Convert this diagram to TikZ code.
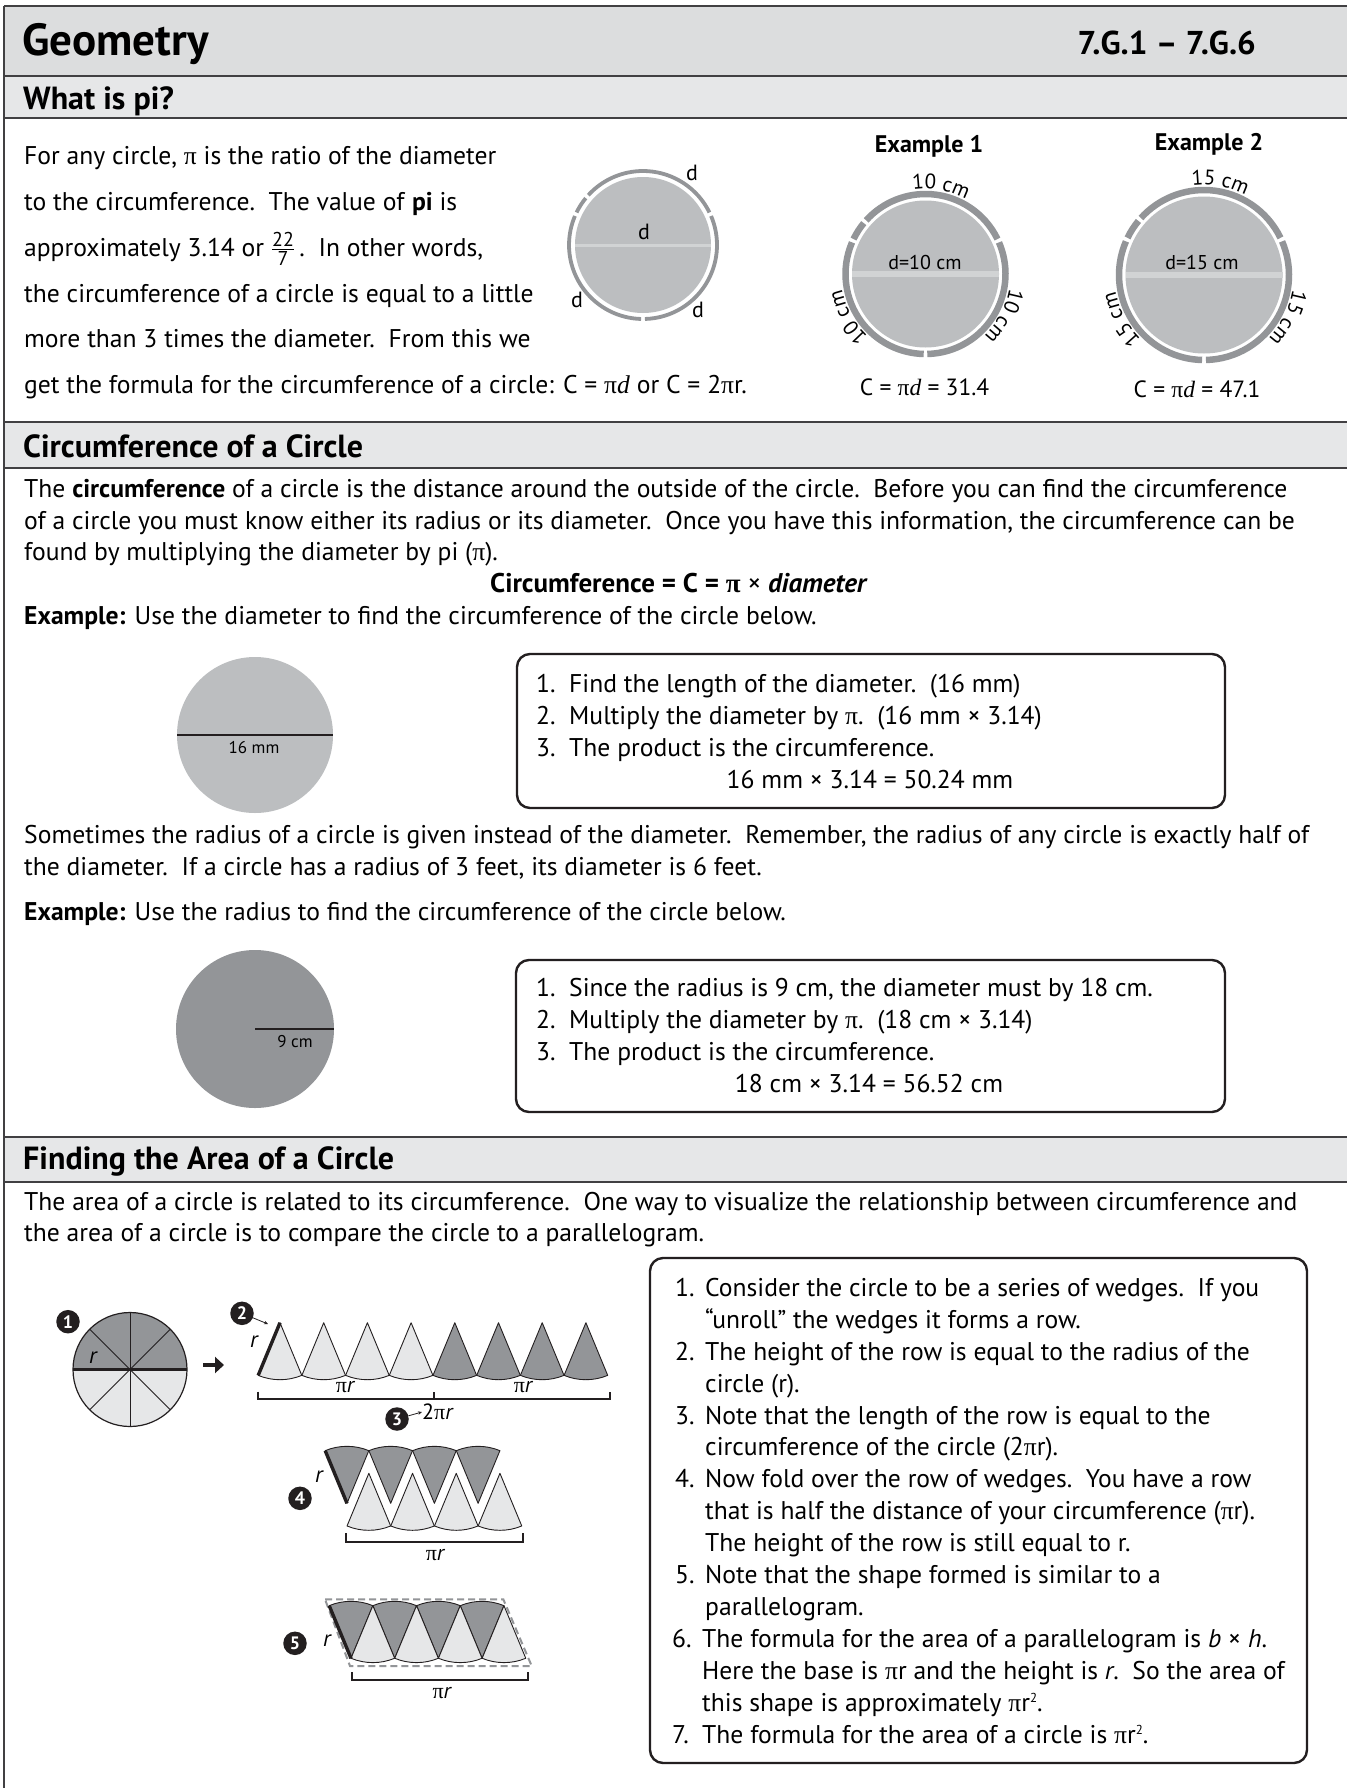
\documentclass[tikz,border=0pt]{standalone}
\usepackage{fontspec}
\usepackage{amsmath}
\setmainfont{PT Sans}
\newfontfamily\pifont{Liberation Serif}
\usetikzlibrary{decorations.text,arrows.meta,calc}
\newcommand\mypi{{\pifont π}}
\newcommand\myit[1]{{\pifont\itshape #1}}
\newcommand\arcfont{\fontsize{21}{21}\selectfont}
\newcommand\sqr{\raisebox{8.5pt}{\fontsize{13}{13}\selectfont 2}}
\newcommand\frtext[1]{\text{\fontsize{20}{20}\selectfont #1}}
\definecolor{bandA}{HTML}{DCDDDE}
\definecolor{bandB}{HTML}{E6E7E8}
\definecolor{rulec}{HTML}{414042}
\definecolor{midgray}{HTML}{BCBEC0}
\definecolor{ringgray}{HTML}{939598}
\definecolor{lightline}{HTML}{D1D3D4}
\definecolor{ink}{HTML}{231F20}
\definecolor{lightfill}{HTML}{E6E7E8}
\newcommand\segring[4]{\foreach \sa/\sb in {-90/24.6,24.6/139.2,139.2/155.4,155.4/270}{\draw[line width=#3, draw=ringgray] ($(#1)+(\sa+#4:#2)$) arc[start angle=\sa+#4, end angle=\sb-#4, radius=#2];}}
\newcommand\arclabel[5]{\path[decorate,decoration={text along path,text align=center,text={|\arcfont|#5}}] ($(#1)+(#3+#4:#2)$) arc[start angle=#3+#4, end angle=#3-#4, radius=#2];}
\newcommand\wup[3]{\filldraw[wedge,fill=#3] (#1,#2) -- ++(247.5:57pt) arc[start angle=247.5,end angle=292.5,radius=57pt] -- cycle;}
\newcommand\wdown[3]{\filldraw[wedge,fill=#3] (#1,#2) -- ++(67.5:57pt) arc[start angle=67.5,end angle=112.5,radius=57pt] -- cycle;}
\begin{document}
\begin{tikzpicture}[x=1pt,y=-1pt,
  body/.style={font=\fontsize{25.6}{30}\selectfont, inner sep=0pt, anchor=base west},
  bodyc/.style={body, anchor=base},
  headA/.style={font=\fontsize{45}{45}\selectfont\bfseries, inner sep=0pt, anchor=base west},
  headB/.style={font=\fontsize{32}{32}\selectfont\bfseries, inner sep=0pt, anchor=base west},
  rulel/.style={line width=2.6pt, draw=rulec},
  box/.style={draw=ink, line width=2.4pt, rounded corners=13pt},
  wedge/.style={draw=ink, line width=0.9pt, line join=round},
  bracket/.style={draw=ink, line width=2.2pt},
  bullet/.style={circle, fill=ink, text=white, font=\fontsize{18}{18}\selectfont\bfseries, inner sep=0pt, minimum size=23.5pt},
  small/.style={font=\fontsize{17}{17}\selectfont, inner sep=0pt},
  lab/.style={font=\fontsize{22}{22}\selectfont, inner sep=0pt},
  rlab/.style={font=\fontsize{23}{23}\selectfont\itshape, inner sep=0pt},
  exlab/.style={font=\fontsize{24}{24}\selectfont\bfseries, inner sep=0pt, anchor=base},
]
\fill[white] (0,0) rectangle (1347,1788);
\path[use as bounding box] (0,0) rectangle (1347,1788);
% bands
\fill[bandA] (4,6) rectangle (1347,76);
\fill[bandB] (4,76) rectangle (1347,118);
\fill[bandB] (4,422) rectangle (1347,468);
\fill[bandB] (4,1137) rectangle (1347,1182);
\foreach \yy in {6,76,118,422,468,1137,1182} {\draw[rulel] (4,\yy) -- (1347,\yy);}
\draw[rulel] (4,6) -- (4,1788);
% headings
\node[headA] (hGeo) at (22,55) {Geometry};
\node[font=\fontsize{33}{33}\selectfont\bfseries, inner sep=0pt, anchor=base east] (hStd) at (1256,54) {7.G.1 – 7.G.6};
\node[headB] (hPi) at (23,109) {What is pi?};
\node[headB] (hCirc) at (23,457) {Circumference of a Circle};
\node[headB] (hArea) at (23,1169) {Finding the Area of a Circle};
% what is pi text
\node[body] (p1) at (24,164) {For any circle, \mypi{} is the ratio of the diameter};
\node[body] (p2) at (24,210) {to the circumference.\ \ The value of \textbf{pi} is};
\node[body] (p3) at (24,256) {approximately 3.14 or $\frac{\frtext{22}}{\frtext{7}}$\,.\ \ In other words,};
\node[body] (p4) at (24,302) {the circumference of a circle is equal to a little};
\node[body] (p5) at (24,347) {more than 3 times the diameter.\ \ From this we};
\node[body] (p6) at (24,393) {get the formula for the circumference of a circle: C = \mypi\myit{d} or C = 2\mypi r.};
% d circle
\coordinate (cD) at (643,245);
\fill[midgray] (cD) circle[radius=68pt];
\draw[lightline, line width=3pt] ($(cD)+(-68,0)$) -- ($(cD)+(68,0)$);
\segring{cD}{74pt}{3.8pt}{1.5}
\node[lab] (dA) at (692,173) {d};
\node[lab] (dB) at (577,300) {d};
\node[lab] (dC) at (698,310) {d};
\node[lab] (dD) at (644,232) {d};
% example 1
\node[exlab] (ex1) at (929,152) {Example 1};
\coordinate (cE1) at (925.5,274);
\fill[midgray] (cE1) circle[radius=73.5pt];
\draw[lightline, line width=6pt] ($(cE1)+(-73.5,0)$) -- ($(cE1)+(73.5,0)$);
\segring{cE1}{80pt}{6.5pt}{1.3}
\node[font=\fontsize{20}{20}\selectfont, inner sep=0pt, anchor=base] (d10) at (925,269) {d=10 cm};
\arclabel{cE1}{85pt}{80}{30}{10 cm}
\arclabel{cE1}{85pt}{209}{30}{10 cm}
\arclabel{cE1}{85pt}{-28}{30}{10 cm}
\node[font=\fontsize{23.5}{23.5}\selectfont, inner sep=0pt, anchor=base] (C1) at (924.5,395) {C = \mypi\myit{d} = 31.4};
% example 2
\node[exlab] (ex2) at (1209,150) {Example 2};
\coordinate (cE2) at (1204,275);
\fill[midgray] (cE2) circle[radius=78.5pt];
\draw[lightline, line width=6pt] ($(cE2)+(-78.5,0)$) -- ($(cE2)+(78.5,0)$);
\segring{cE2}{85pt}{6.5pt}{1.3}
\node[font=\fontsize{20}{20}\selectfont, inner sep=0pt, anchor=base] (d15) at (1202,269) {d=15 cm};
\arclabel{cE2}{90pt}{80}{30}{15 cm}
\arclabel{cE2}{90pt}{208}{30}{15 cm}
\arclabel{cE2}{90pt}{-27}{30}{15 cm}
\node[font=\fontsize{23.5}{23.5}\selectfont, inner sep=0pt, anchor=base] (C2) at (1197,397) {C = \mypi\myit{d} = 47.1};
% circumference section
\node[body] (c1) at (24,497) {The \textbf{circumference} of a circle is the distance around the outside of the circle.\ \ Before you can find the circumference};
\node[body] (c2) at (24,529) {of a circle you must know either its radius or its diameter.\ \ Once you have this information, the circumference can be};
\node[body] (c3) at (24,560) {found by multiplying the diameter by pi (\mypi).};
\node[bodyc, font=\fontsize{27}{30}\selectfont\bfseries] (c4) at (679,592) {Circumference = C = {\pifont\bfseries π} {\mdseries ×} \textit{diameter}};
\node[body] (c5) at (24,624) {\textbf{Example:} Use the diameter to find the circumference of the circle below.};
% circle 16 mm
\coordinate (cA) at (255,735);
\fill[midgray] (cA) circle[radius=78pt];
\draw[ink, line width=2.4pt] ($(cA)+(-78,0)$) -- ($(cA)+(78,0)$);
\node[small] (l16) at (254,748) {16 mm};
% box 1
\draw[box] (517,654) rectangle (1225,808);
\node[body] (b1n1) at (536,692.5) {1.};
\node[body] (b1t1) at (569,692.5) {Find the length of the diameter.\ \ (16 mm)};
\node[body] (b1n2) at (536,724.5) {2.};
\node[body] (b1t2) at (569,724.5) {Multiply the diameter by \mypi.\ \ (16 mm × 3.14)};
\node[body] (b1n3) at (536,756.5) {3.};
\node[body] (b1t3) at (569,756.5) {The product is the circumference.};
\node[bodyc] (b1r) at (870,788.5) {16 mm × 3.14 = 50.24 mm};
% radius paragraph
\node[body] (s1) at (24,843.5) {Sometimes the radius of a circle is given instead of the diameter.\ \ Remember, the radius of any circle is exactly half of};
\node[body] (s2) at (24,875.5) {the diameter.\ \ If a circle has a radius of 3 feet, its diameter is 6 feet.};
\node[body] (s3) at (24,920.5) {\textbf{Example:} Use the radius to find the circumference of the circle below.};
% circle 9 cm
\coordinate (cB) at (255,1029);
\fill[ringgray] (cB) circle[radius=79pt];
\draw[ink, line width=2.4pt] (cB) -- ($(cB)+(79,0)$);
\node[small] (l9) at (295,1042) {9 cm};
% box 2
\draw[box] (516,960) rectangle (1225,1112);
\node[body] (b2n1) at (536,996.5) {1.};
\node[body] (b2t1) at (569,996.5) {Since the radius is 9 cm, the diameter must by 18 cm.};
\node[body] (b2n2) at (536,1028.5) {2.};
\node[body] (b2t2) at (569,1028.5) {Multiply the diameter by \mypi.\ \ (18 cm × 3.14)};
\node[body] (b2n3) at (536,1060.5) {3.};
\node[body] (b2t3) at (569,1060.5) {The product is the circumference.};
\node[bodyc] (b2r) at (869,1092.5) {18 cm × 3.14 = 56.52 cm};
% area section
\node[body] (a1) at (24,1210) {The area of a circle is related to its circumference.\ \ One way to visualize the relationship between circumference and};
\node[body] (a2) at (24,1241) {the area of a circle is to compare the circle to a parallelogram.};
% box 3
\draw[box] (650,1258) rectangle (1307,1763);
\node[body] (n1) at (675,1296.2) {1.};
\node[body] (i1a) at (705,1296.2) {Consider the circle to be a series of wedges.\ \ If you};
\node[body] (i1b) at (705,1328.1) {“unroll” the wedges it forms a row.};
\node[body] (n2) at (675,1360.1) {2.};
\node[body] (i2a) at (705,1360.1) {The height of the row is equal to the radius of the};
\node[body] (i2b) at (705,1392.0) {circle (r).};
\node[body] (n3) at (675,1424.0) {3.};
\node[body] (i3a) at (705,1424.0) {Note that the length of the row is equal to the};
\node[body] (i3b) at (705,1455.9) {circumference of the circle (2\mypi r).};
\node[body] (n4) at (675,1487.8) {4.};
\node[body] (i4a) at (705,1487.8) {Now fold over the row of wedges.\ \ You have a row};
\node[body] (i4b) at (705,1519.8) {that is half the distance of your circumference (\mypi r).};
\node[body] (i4c) at (705,1551.7) {The height of the row is still equal to r.};
\node[body] (n5) at (675,1583.7) {5.};
\node[body] (i5a) at (705,1583.7) {Note that the shape formed is similar to a};
\node[body] (i5b) at (705,1615.6) {parallelogram.};
\node[body] (n6) at (672,1647.5) {6.};
\node[body] (i6a) at (702,1647.5) {The formula for the area of a parallelogram is \textit{b} × \textit{h}.};
\node[body] (i6b) at (702,1679.5) {Here the base is \mypi r and the height is \textit{r}.\ \ So the area of};
\node[body] (i6c) at (702,1711.4) {this shape is approximately \mypi r\sqr.};
\node[body] (n7) at (672,1743.4) {7.};
\node[body] (i7a) at (702,1743.4) {The formula for the area of a circle is \mypi r\sqr.};
% circle 1 with wedges
\coordinate (cW) at (130,1369.5);
\fill[ringgray] ($(cW)+(57,0)$) arc[start angle=0,end angle=180,radius=57pt] -- cycle;
\fill[lightfill] ($(cW)+(-57,0)$) arc[start angle=180,end angle=360,radius=57pt] -- cycle;
\foreach \ang in {45,90,135} {\draw[ink, line width=1pt] ($(cW)+(\ang:57pt)$) -- ($(cW)+(\ang+180:57pt)$);}
\draw[ink, line width=2.2pt] ($(cW)+(-57,0)$) -- ($(cW)+(57,0)$);
\draw[ink, line width=1.2pt] (cW) circle[radius=57pt];
\node[rlab] (rW) at (93,1358) {r};
\node[bullet] (bu1) at (68,1321.7) {1};
% arrow
\coordinate (arrA) at (203,1365);
\coordinate (arrB) at (224,1365);
\draw[ink, line width=4.5pt, -{Triangle[length=9pt,width=16pt]}] (arrA) -- (arrB);
% row 2
\foreach \i in {0,...,3} {\pgfmathsetmacro\xx{280+43.7*\i}\wup{\xx}{1322.7}{lightfill}}
\foreach \i in {4,...,7} {\pgfmathsetmacro\xx{280+43.7*\i}\wup{\xx}{1322.7}{ringgray}}
\draw[ink, line width=3.4pt] (280,1322.7) -- ++(247.5:57pt);
\node[rlab] (r2) at (254,1342) {r};
\node[bullet] (bu2) at (242,1313.3) {2};
\coordinate (apex2) at (268,1324);
\draw[ink, line width=0.8pt, -{Stealth[length=4pt,width=3.5pt]}] (bu2) -- (apex2);
\draw[bracket] (258.3,1391.7) -- (258.3,1399.3) -- (610,1399.3) -- (610,1391.7);
\draw[bracket] (434,1399.3) -- (434,1391.7);
\node[lab] (pr1) at (345,1387) {\mypi{\itshape r}};
\node[lab] (pr2) at (523,1387) {\mypi{\itshape r}};
\node[bullet] (bu3) at (397,1419) {3};
\node[lab, anchor=west] (tpr) at (422,1412) {2\mypi{\itshape r}};
\draw[ink, line width=0.8pt, -{Stealth[length=4pt,width=3.5pt]}] (bu3) -- (tpr.west);
% row 4
\foreach \i in {0,...,3} {\pgfmathsetmacro\xx{347+43.7*\i}\wdown{\xx}{1503.3}{ringgray}}
\foreach \i in {0,...,3} {\pgfmathsetmacro\xx{368.85+43.7*\i}\wup{\xx}{1473.3}{lightfill}}
\draw[ink, line width=3.4pt] (347,1503.3) -- ++(112.5:57pt);
\node[rlab] (r4) at (319,1477) {r};
\node[bullet] (bu4) at (300,1498.3) {4};
\draw[bracket] (346,1533.3) -- (346,1541.7) -- (523.3,1541.7) -- (523.3,1533.3);
\node[lab] (pr4) at (435,1555) {\mypi{\itshape r}};
% row 5
\draw[ringgray, line width=2pt, dash pattern=on 7pt off 4pt] (325,1599.3) -- (503.3,1599.3) -- (531.7,1666) -- (350,1666) -- cycle;
\foreach \i in {0,...,3} {\pgfmathsetmacro\xx{351+43.7*\i}\wdown{\xx}{1658.3}{ringgray}}
\foreach \i in {0,...,3} {\pgfmathsetmacro\xx{372.85+43.7*\i}\wup{\xx}{1605.6}{lightfill}}
\draw[ink, line width=3.4pt] (351,1658.3) -- ++(112.5:57pt);
\node[rlab] (r5) at (327,1641) {r};
\node[bullet] (bu5) at (295,1643.3) {5};
\draw[bracket] (351.7,1672.3) -- (351.7,1680) -- (528.3,1680) -- (528.3,1672.3);
\node[lab] (pr5) at (441.7,1693) {\mypi{\itshape r}};
\end{tikzpicture}
\end{document}
